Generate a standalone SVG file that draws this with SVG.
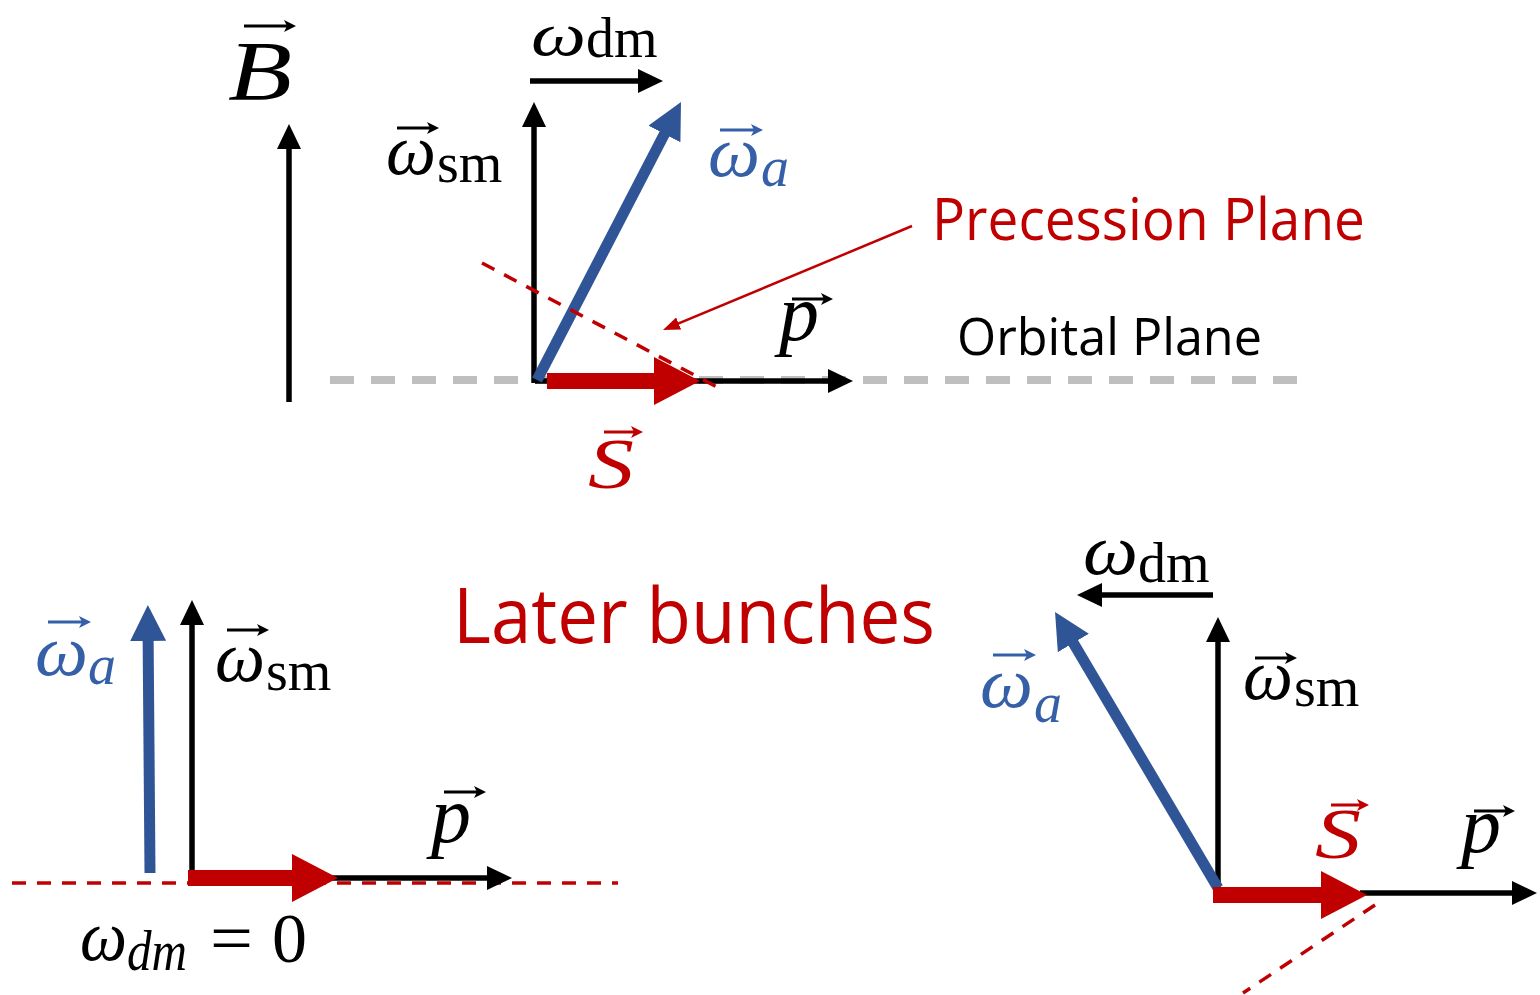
<svg xmlns="http://www.w3.org/2000/svg" width="1540" height="995" viewBox="0 0 1540 995">
<style>
.m{font-family:"Liberation Serif","DejaVu Serif",serif;fill:#000}
.it{font-style:italic}
.w{font-size:72px;font-style:italic}
.sub{font-size:56px}
.suba{font-size:56px;font-style:italic}
.blue{fill:#3560a8}
.red{fill:#c00000}
.sans{font-family:"Open Sans","Noto Sans","Liberation Sans",sans-serif}
.ax{stroke:#000;stroke-width:5.5;fill:none;marker-end:url(#hk)}
.bl{stroke:#2f5597;stroke-width:11;fill:none;marker-end:url(#hb)}
.rs{stroke:#c00000;stroke-width:16;fill:none;marker-end:url(#hr)}
.rd{stroke:#c00000;stroke-width:3.5;fill:none;stroke-dasharray:14 11}
.acc{stroke-width:3;fill:none}
.acck{stroke:#000;marker-end:url(#ak)}
.accb{stroke:#3560a8;marker-end:url(#ab)}
.accr{stroke:#c00000;marker-end:url(#ar)}
</style>
<defs>
<marker id="hk" markerUnits="userSpaceOnUse" viewBox="0 0 25 24" markerWidth="25" markerHeight="24" refX="13" refY="12" orient="auto"><path d="M0,0 L25,12 L0,24 Z" fill="#000"/></marker>
<marker id="hb" markerUnits="userSpaceOnUse" viewBox="0 0 36 36" markerWidth="36" markerHeight="36" refX="18" refY="18" orient="auto"><path d="M0,0 L36,18 L0,36 Z" fill="#2f5597"/></marker>
<marker id="hr" markerUnits="userSpaceOnUse" viewBox="0 0 46 48" markerWidth="46" markerHeight="48" refX="26" refY="24" orient="auto"><path d="M0,0 L46,24 L0,48 Z" fill="#c00000"/></marker>
<marker id="hp" markerUnits="userSpaceOnUse" viewBox="0 0 17 13" markerWidth="17" markerHeight="13" refX="11" refY="6.5" orient="auto"><path d="M0,0 L17,6.5 L0,13 Z" fill="#c00000"/></marker>
<marker id="ak" markerUnits="userSpaceOnUse" viewBox="0 0 12 12" markerWidth="12" markerHeight="12" refX="7" refY="6" orient="auto"><path d="M0,0 L12,6 L0,12 L3,6 Z" fill="#000"/></marker>
<marker id="ab" markerUnits="userSpaceOnUse" viewBox="0 0 12 12" markerWidth="12" markerHeight="12" refX="7" refY="6" orient="auto"><path d="M0,0 L12,6 L0,12 L3,6 Z" fill="#3560a8"/></marker>
<marker id="ar" markerUnits="userSpaceOnUse" viewBox="0 0 12 12" markerWidth="12" markerHeight="12" refX="7" refY="6" orient="auto"><path d="M0,0 L12,6 L0,12 L3,6 Z" fill="#c00000"/></marker>
</defs>
<rect width="1540" height="995" fill="#fff"/>

<g id="connectors">
  <!-- top diagram -->
  <line x1="330" y1="380" x2="1307" y2="380" stroke="#bfbfbf" stroke-width="8" stroke-dasharray="24 17"/>
  <line class="ax" x1="289" y1="402" x2="289" y2="136"/>
  <line class="ax" x1="534" y1="383" x2="534" y2="114"/>
  <line class="ax" x1="530" y1="81" x2="651" y2="81"/>
  <line class="ax" x1="535" y1="381" x2="841" y2="381"/>
  <line class="bl" x1="537" y1="380" x2="672.7" y2="118"/>
  <line class="rs" x1="547" y1="381" x2="680" y2="381"/>
  <line class="rd" x1="482" y1="263" x2="717" y2="387"/>
  <line x1="912" y1="226" x2="668.5" y2="327.7" stroke="#c00000" stroke-width="2.5" marker-end="url(#hp)"/>
  <!-- bottom left -->
  <line class="rd" x1="12" y1="883" x2="618" y2="883"/>
  <line class="bl" x1="150" y1="873" x2="148" y2="623"/>
  <line class="ax" x1="192" y1="880" x2="192" y2="612"/>
  <line class="ax" x1="300" y1="878" x2="500" y2="878"/>
  <line class="rs" x1="188" y1="878" x2="318" y2="878"/>
  <!-- bottom right -->
  <line class="ax" x1="1213" y1="595" x2="1089" y2="595"/>
  <line class="ax" x1="1218" y1="890" x2="1218" y2="629"/>
  <line class="bl" x1="1218" y1="888" x2="1064.2" y2="627.5"/>
  <line class="ax" x1="1360" y1="893" x2="1525" y2="893"/>
  <line class="rs" x1="1213" y1="895" x2="1347" y2="895"/>
  <line class="rd" x1="1375" y1="905" x2="1243" y2="993"/>
</g>

<g id="label-B">
  <text class="m it" x="228" y="100" font-size="84" textLength="64" lengthAdjust="spacingAndGlyphs">B</text>
  <line class="acc acck" x1="244" y1="26" x2="291" y2="26"/>
</g>
<g id="label-wdm-top">
  <text class="m it" x="531" y="55" font-size="62" textLength="55" lengthAdjust="spacingAndGlyphs">ω</text>
  <text class="m sub" x="586" y="57">dm</text>
</g>
<g id="label-wsm-top">
  <text class="m w" x="386" y="174" textLength="50" lengthAdjust="spacingAndGlyphs">ω</text>
  <line class="acc acck" x1="397" y1="128" x2="434" y2="128"/>
  <text class="m sub" x="437" y="182">sm</text>
</g>
<g id="label-wa-top">
  <text class="m w blue" x="708" y="176" textLength="52" lengthAdjust="spacingAndGlyphs">ω</text>
  <line class="acc accb" x1="720" y1="130" x2="758" y2="130"/>
  <text class="m suba blue" x="761" y="186">a</text>
</g>
<g id="label-p-top">
  <text class="m it" x="779" y="340" font-size="80">p</text>
  <line class="acc acck" x1="792" y1="299" x2="828" y2="299"/>
</g>
<g id="label-S-top">
  <text class="m it red" x="588" y="488" font-size="72" textLength="46" lengthAdjust="spacingAndGlyphs">S</text>
  <line class="acc accr" x1="604" y1="432" x2="638" y2="432"/>
</g>
<g id="label-precession">
  <text class="sans red" x="932" y="240" font-size="58" textLength="433" lengthAdjust="spacingAndGlyphs">Precession Plane</text>
</g>
<g id="label-orbital">
  <text class="sans" x="957" y="355" font-size="52" textLength="305" lengthAdjust="spacingAndGlyphs" fill="#000">Orbital Plane</text>
</g>
<g id="label-later">
  <text class="sans red" x="453" y="643" font-size="76" textLength="482" lengthAdjust="spacingAndGlyphs">Later bunches</text>
</g>

<g id="label-wa-bl">
  <text class="m w blue" x="35" y="675" textLength="53" lengthAdjust="spacingAndGlyphs">ω</text>
  <line class="acc accb" x1="48" y1="622" x2="86" y2="622"/>
  <text class="m suba blue" x="88" y="684">a</text>
</g>
<g id="label-wsm-bl">
  <text class="m w" x="215" y="681" textLength="50" lengthAdjust="spacingAndGlyphs">ω</text>
  <line class="acc acck" x1="227" y1="630" x2="264" y2="630"/>
  <text class="m sub" x="266" y="690">sm</text>
</g>
<g id="label-p-bl">
  <text class="m it" x="431" y="842" font-size="80">p</text>
  <line class="acc acck" x1="444" y1="792" x2="481" y2="792"/>
</g>
<g id="label-wdm0">
  <text class="m w" x="80" y="960" textLength="47" lengthAdjust="spacingAndGlyphs">ω</text>
  <text class="m suba" x="127" y="970" textLength="60" lengthAdjust="spacingAndGlyphs">dm</text>
  <text class="m" x="210" y="962" font-size="70" textLength="43" lengthAdjust="spacingAndGlyphs">=</text>
  <text class="m" x="272" y="962" font-size="70">0</text>
</g>

<g id="label-wdm-br">
  <text class="m w" x="1083" y="574" textLength="55" lengthAdjust="spacingAndGlyphs">ω</text>
  <text class="m sub" x="1138" y="582">dm</text>
</g>
<g id="label-wa-br">
  <text class="m w blue" x="980" y="707" textLength="53" lengthAdjust="spacingAndGlyphs">ω</text>
  <line class="acc accb" x1="993" y1="655" x2="1031" y2="655"/>
  <text class="m suba blue" x="1034" y="722">a</text>
</g>
<g id="label-wsm-br">
  <text class="m w" x="1243" y="699" textLength="50" lengthAdjust="spacingAndGlyphs">ω</text>
  <line class="acc acck" x1="1255" y1="658" x2="1292" y2="658"/>
  <text class="m sub" x="1294" y="706">sm</text>
</g>
<g id="label-S-br">
  <text class="m it red" x="1315" y="858" font-size="72" textLength="46" lengthAdjust="spacingAndGlyphs">S</text>
  <line class="acc accr" x1="1331" y1="805" x2="1364" y2="805"/>
</g>
<g id="label-p-br">
  <text class="m it" x="1461" y="852" font-size="80">p</text>
  <line class="acc acck" x1="1474" y1="811" x2="1510" y2="811"/>
</g>
</svg>
